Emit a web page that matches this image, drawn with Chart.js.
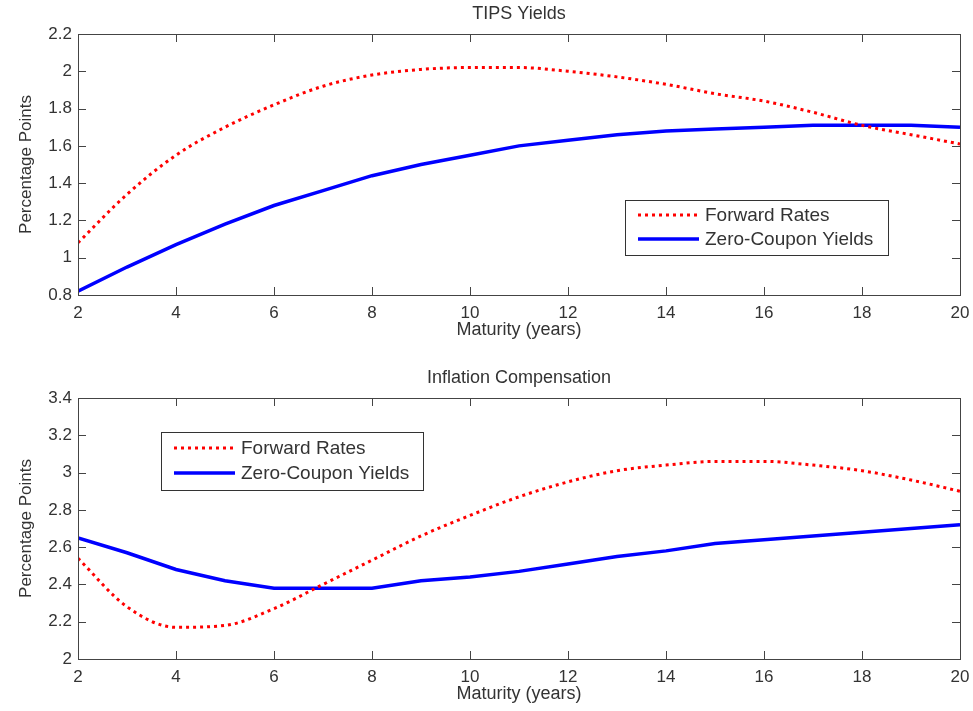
<!DOCTYPE html>
<html>
<head>
<meta charset="utf-8">
<title>TIPS Yields and Inflation Compensation</title>
<script src="https://cdn.jsdelivr.net/npm/chart.js@4.4.1/dist/chart.umd.min.js"></script>
<style>
  html, body { margin: 0; padding: 0; background: #fff; }
  .panel { position: absolute; left: 0; width: 973px; height: 347px; }
  #tipsPanel { top: 0; }
  #inflPanel { top: 364px; }
</style>
</head>
<body>
<div class="panel" id="tipsPanel"><canvas id="tipsChart"></canvas></div>
<div class="panel" id="inflPanel"><canvas id="inflChart"></canvas></div>
<script>
// maturities in years
const maturity = [2, 3, 4, 5, 6, 7, 8, 9, 10, 11, 12, 13, 14, 15, 16, 17, 18, 19, 20];

// TIPS yields (percentage points)
const tipsForward = [1.08, 1.34, 1.55, 1.70, 1.82, 1.92, 1.98, 2.01, 2.02, 2.02, 2.00, 1.97, 1.93, 1.88, 1.84, 1.78, 1.71, 1.66, 1.61];
const tipsZero    = [0.82, 0.95, 1.07, 1.18, 1.28, 1.36, 1.44, 1.50, 1.55, 1.60, 1.63, 1.66, 1.68, 1.69, 1.70, 1.71, 1.71, 1.71, 1.70];

// inflation compensation (percentage points)
const inflForward = [2.54, 2.28, 2.17, 2.18, 2.27, 2.40, 2.53, 2.66, 2.77, 2.87, 2.95, 3.01, 3.04, 3.06, 3.06, 3.04, 3.01, 2.96, 2.90];
const inflZero    = [2.65, 2.57, 2.48, 2.42, 2.38, 2.38, 2.38, 2.42, 2.44, 2.47, 2.51, 2.55, 2.58, 2.62, 2.64, 2.66, 2.68, 2.70, 2.72];

const seriesNames = ['Forward Rates', 'Zero-Coupon Yields'];

const FONT = '"Liberation Sans", Arial, Helvetica, sans-serif';
Chart.defaults.font.family = FONT;
Chart.defaults.color = '#333';

// box around the plot, inward ticks on all four sides, title and legend
const framePlugin = {
  id: 'frame',
  afterDatasetsDraw(chart, args, opts) {
    const { ctx, chartArea: a, scales } = chart;
    ctx.save();
    ctx.strokeStyle = '#444';
    ctx.lineWidth = 1;
    ctx.strokeRect(a.left + 0.5, a.top + 0.5, a.right - a.left, a.bottom - a.top);
    ctx.beginPath();
    scales.x.ticks.forEach(t => {
      const px = Math.round(scales.x.getPixelForValue(t.value)) + 0.5;
      ctx.moveTo(px, a.bottom); ctx.lineTo(px, a.bottom - 8);
      ctx.moveTo(px, a.top); ctx.lineTo(px, a.top + 8);
    });
    scales.y.ticks.forEach(t => {
      const py = Math.round(scales.y.getPixelForValue(t.value)) + 0.5;
      ctx.moveTo(a.left, py); ctx.lineTo(a.left + 8, py);
      ctx.moveTo(a.right, py); ctx.lineTo(a.right - 8, py);
    });
    ctx.stroke();

    // title, centred over the plot
    ctx.fillStyle = '#333';
    ctx.font = '18px ' + FONT;
    ctx.textAlign = 'center';
    ctx.textBaseline = 'middle';
    ctx.fillText(opts.title, (a.left + a.right) / 2, a.top - 20);

    // legend box
    const lg = opts.legend;
    const bx = a.left + lg.x, by = a.top + lg.y;
    ctx.fillStyle = '#fff';
    ctx.fillRect(bx, by, lg.w, lg.h);
    ctx.strokeStyle = '#333';
    ctx.strokeRect(bx + 0.5, by + 0.5, lg.w, lg.h);
    ctx.font = '19px ' + FONT;
    ctx.textAlign = 'left';
    chart.data.datasets.forEach((ds, i) => {
      const cy = by + lg.rowTop + i * lg.rowGap;
      ctx.beginPath();
      ctx.setLineDash(ds.borderDash || []);
      ctx.lineWidth = ds.borderWidth;
      ctx.strokeStyle = ds.borderColor;
      ctx.moveTo(bx + 13, cy);
      ctx.lineTo(bx + 74, cy);
      ctx.stroke();
      ctx.setLineDash([]);
      ctx.fillStyle = '#333';
      ctx.fillText(ds.label, bx + 80, cy + 1);
    });
    ctx.restore();
  }
};

function makeChart(canvasId, title, forward, zero, yMin, yMax, legendBox) {
  const ctx = document.getElementById(canvasId).getContext('2d');
  return new Chart(ctx, {
    type: 'line',
    data: {
      datasets: [{
        label: seriesNames[0],
        data: maturity.map((m, i) => ({ x: m, y: forward[i] })),
        borderColor: '#ff0000',
        borderWidth: 3,
        borderDash: [3, 4],
        cubicInterpolationMode: 'monotone',
        pointRadius: 0,
        fill: false
      },
      {
        label: seriesNames[1],
        data: maturity.map((m, i) => ({ x: m, y: zero[i] })),
        borderColor: '#0000ff',
        borderWidth: 3.5,
        tension: 0,
        pointRadius: 0,
        fill: false
      }]
    },
    options: {
      responsive: true,
      maintainAspectRatio: false,
      animation: false,
      layout: { padding: { top: 34, right: 13, left: 0, bottom: 0 } },
      plugins: {
        legend: { display: false },
        tooltip: { enabled: false },
        frame: { title: title, legend: legendBox }
      },
      scales: {
        x: {
          type: 'linear',
          min: 2,
          max: 20,
          grid: { display: false, drawTicks: false },
          border: { display: false },
          ticks: { stepSize: 2, padding: 8, font: { size: 17 } },
          title: {
            display: true,
            text: 'Maturity (years)',
            font: { size: 18 },
            padding: { top: 0, bottom: 6 }
          },
          afterFit: s => {
            s.height = 52;
            // end labels fit inside the layout padding
            s.paddingLeft = 0;
            s.paddingRight = 0;
          }
        },
        y: {
          min: yMin,
          max: yMax,
          grid: { display: false, drawTicks: false },
          border: { display: false },
          ticks: {
            stepSize: 0.2,
            padding: 6,
            font: { size: 17 },
            callback: v => String(parseFloat(v.toFixed(2)))
          },
          title: {
            display: true,
            text: 'Percentage Points',
            font: { size: 17 },
            padding: { top: 16, bottom: 0 }
          },
          afterFit: s => {
            s.width = 78;
            s.paddingTop = 0;
            s.paddingBottom = 0;
          }
        }
      }
    },
    plugins: [framePlugin]
  });
}

const tipsChart = makeChart('tipsChart', 'TIPS Yields', tipsForward, tipsZero, 0.8, 2.2,
  { x: 547, y: 166, w: 263, h: 55, rowTop: 15, rowGap: 24 });
const inflChart = makeChart('inflChart', 'Inflation Compensation', inflForward, inflZero, 2, 3.4,
  { x: 83, y: 34, w: 262, h: 58, rowTop: 16, rowGap: 25 });
</script>
</body>
</html>
